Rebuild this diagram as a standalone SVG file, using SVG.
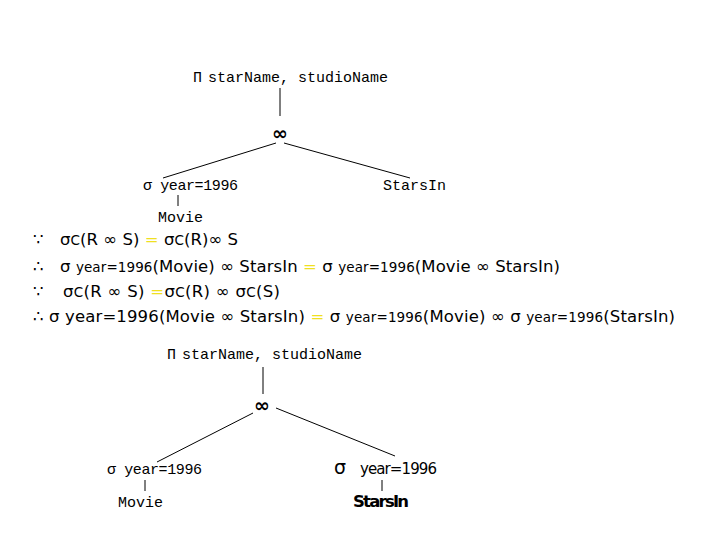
<svg xmlns="http://www.w3.org/2000/svg" width="720" height="540" viewBox="0 0 720 540">
<style>
.m{font-family:"Liberation Mono","DejaVu Sans Mono",monospace;font-size:15px;fill:#000}
.s{font-family:"DejaVu Sans","Liberation Sans",sans-serif;font-size:16.5px;fill:#000}
.sm{font-size:13.5px}
.y{fill:#f0e020}
.j{font-family:"DejaVu Sans",sans-serif;font-size:19px;font-weight:bold;fill:#000}
line{stroke:#000;stroke-width:1}
</style>
<rect width="720" height="540" fill="#fff"/>
<g id="connectors">
<line x1="280" y1="88" x2="280" y2="116"/>
<line x1="276" y1="143" x2="163" y2="178"/>
<line x1="284" y1="143" x2="410" y2="178"/>
<line x1="178" y1="195" x2="178" y2="206"/>
<line x1="263" y1="367" x2="263" y2="394"/>
<line x1="253" y1="413" x2="157" y2="462"/>
<line x1="276" y1="408" x2="395" y2="456"/>
<line x1="145" y1="480" x2="145" y2="491"/>
<line x1="382" y1="480" x2="382" y2="491"/>
</g>
<g id="proj1"><text class="m" x="193" y="82">Π<tspan x="208" textLength="180">starName, studioName</tspan></text></g>
<g id="join1"><text class="j" x="280" y="140" text-anchor="middle">∞</text></g>
<g id="sel1"><text class="m" x="143" y="190" textLength="95">σ year=1996</text></g>
<g id="starsin1"><text class="m" x="383" y="190" textLength="63">StarsIn</text></g>
<g id="movie1"><text class="m" x="158" y="222">Movie</text></g>
<g id="equations">
<text class="s" x="33" y="245">∵<tspan x="60" textLength="178">σ<tspan class="sm">C</tspan>(R ∞ S) <tspan class="y">=</tspan> σ<tspan class="sm">C</tspan>(R)∞ S</tspan></text>
<text class="s" x="33" y="272">∴<tspan x="60" textLength="500">σ <tspan class="sm">year=1996</tspan>(Movie) ∞ StarsIn <tspan class="y">=</tspan> σ <tspan class="sm">year=1996</tspan>(Movie ∞ StarsIn)</tspan></text>
<text class="s" x="33" y="297">∵<tspan x="63" textLength="217">σ<tspan class="sm">C</tspan>(R ∞ S) <tspan class="y">=</tspan>σ<tspan class="sm">C</tspan>(R) ∞ σ<tspan class="sm">C</tspan>(S)</tspan></text>
<text class="s" x="33" y="322" textLength="642">∴ σ year=1996(Movie ∞ StarsIn) <tspan class="y">=</tspan> σ <tspan class="sm">year=1996</tspan>(Movie) ∞ σ <tspan class="sm">year=1996</tspan>(StarsIn)</text>
</g>
<g id="proj2"><text class="m" x="167" y="359">Π<tspan x="182" textLength="180">starName, studioName</tspan></text></g>
<g id="join2"><text class="j" x="262" y="412" text-anchor="middle">∞</text></g>
<g id="sel2"><text class="m" x="107" y="474" textLength="95">σ year=1996</text></g>
<g id="movie2"><text class="m" x="118" y="507">Movie</text></g>
<g id="sel3"><text class="s" x="334" y="474"><tspan font-size="19">σ</tspan><tspan x="360" font-size="15" textLength="77">year=1996</tspan></text></g>
<g id="starsin2"><text class="s" x="353" y="507" font-weight="bold" textLength="56">StarsIn</text></g>
</svg>
